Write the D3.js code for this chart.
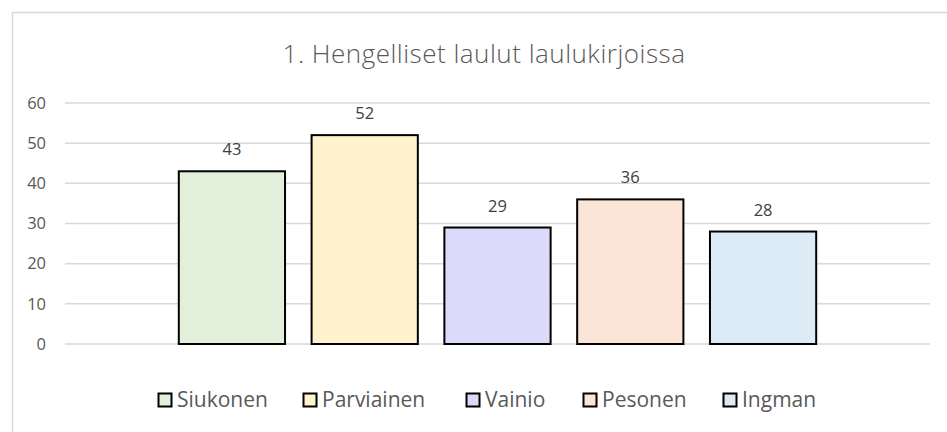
<!DOCTYPE html>
<html>
<head>
<meta charset="utf-8">
<script src="https://d3js.org/d3.v7.min.js"></script>
<style>
body { margin: 0; background: #fff; }
svg { display: block; }
text { font-family: 'Open Sans', 'Noto Sans', sans-serif; }
</style>
</head>
<body>
<div id="chart"></div>
<script>
// data
var names = ["Siukonen", "Parviainen", "Vainio", "Pesonen", "Ingman"];
var values = [43, 52, 29, 36, 28];
var colors = ["#e2efda", "#fff2cc", "#dcdafb", "#fbe5d6", "#ddebf7"];
var yTicks = [0, 10, 20, 30, 40, 50, 60];
var title = "1. Hengelliset laulut laulukirjoissa";

var width = 947, height = 432;

var svg = d3.select("#chart").append("svg")
  .attr("width", width).attr("height", height);

// chart frame
svg.append("rect")
  .attr("x", 12.5).attr("y", 12.5)
  .attr("width", width).attr("height", height)
  .attr("fill", "#fff").attr("stroke", "#d9d9d9").attr("stroke-width", 1.5);

var xScale = d3.scaleBand().domain(names).range([65, 930])
  .paddingInner(0.2).paddingOuter(0.857);
var yScale = d3.scaleLinear().domain([0, 60]).range([344, 103]);

// gridlines
svg.append("g").selectAll("line")
  .data(yTicks).enter().append("line")
  .attr("x1", 65).attr("x2", 930)
  .attr("y1", function (d) { return yScale(d); })
  .attr("y2", function (d) { return yScale(d); })
  .attr("stroke", "#d9d9d9").attr("stroke-width", 1.5);

// y labels
var yAxis = d3.axisLeft(yScale).tickValues(yTicks).tickSize(0).tickPadding(0);
var yg = svg.append("g").attr("transform", "translate(46,0)").call(yAxis);
yg.select(".domain").remove();
yg.selectAll("text")
  .attr("fill", "#595959").style("font-size", "16.5px")
  .style("font-family", "'Open Sans', sans-serif");

// bars
svg.append("g").selectAll("rect")
  .data(values).enter().append("rect")
  .attr("x", function (d, i) { return xScale(names[i]); })
  .attr("width", xScale.bandwidth())
  .attr("y", function (d) { return yScale(d); })
  .attr("height", function (d) { return yScale(0) - yScale(d); })
  .attr("fill", function (d, i) { return colors[i]; })
  .attr("stroke", "#000").attr("stroke-width", 2);

// value labels
svg.append("g").selectAll("text")
  .data(values).enter().append("text")
  .attr("x", function (d, i) { return xScale(names[i]) + xScale.bandwidth() / 2; })
  .attr("y", function (d) { return yScale(d) - 16; })
  .attr("text-anchor", "middle")
  .attr("fill", "#404040").style("font-size", "16.5px")
  .text(function (d) { return d; });

// title
svg.append("text")
  .attr("x", 484).attr("y", 63)
  .attr("text-anchor", "middle")
  .attr("fill", "#595959").style("font-size", "26px").style("font-weight", 300)
  .style("letter-spacing", "0.5px")
  .text(title);

// legend
var legendX = [158, 303, 466, 583, 723];
var legend = svg.append("g").selectAll("g")
  .data(names).enter().append("g")
  .attr("transform", function (d, i) { return "translate(" + legendX[i] + ",407)"; });
legend.append("rect")
  .attr("x", 0.5).attr("y", -13.5).attr("width", 13).attr("height", 13)
  .attr("fill", function (d, i) { return colors[i]; })
  .attr("stroke", "#000").attr("stroke-width", 2);
legend.append("text")
  .attr("x", 19).attr("y", 0)
  .attr("fill", "#595959").style("font-size", "21px")
  .text(function (d) { return d; });
</script>
</body>
</html>
